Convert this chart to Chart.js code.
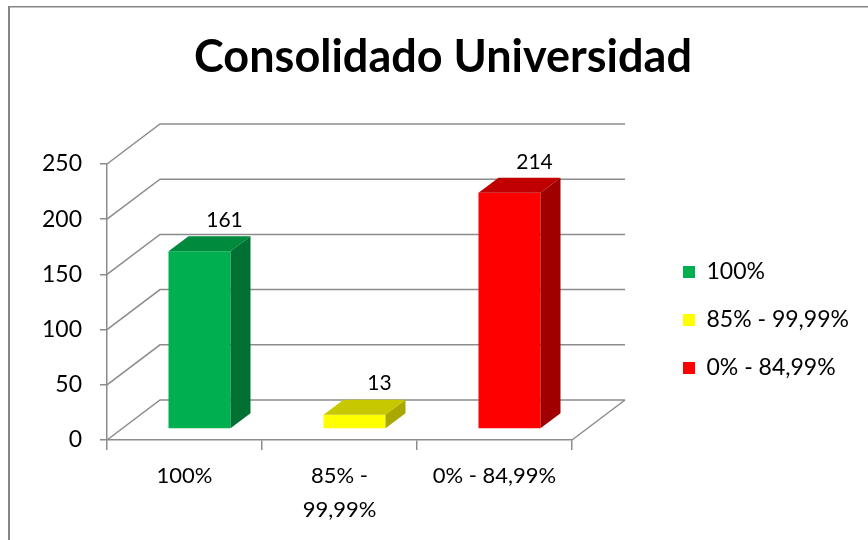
<!DOCTYPE html>
<html>
<head>
<meta charset="utf-8">
<script src="https://cdn.jsdelivr.net/npm/chart.js@4"></script>
<style>
  body { margin: 0; background: #fff; }
  canvas { display: block; }
</style>
</head>
<body>
<canvas id="myChart" width="868" height="540"></canvas>
<script>
// data
var categories = [['100%'], ['85% -', '99,99%'], ['0% - 84,99%']];
var legendLabels = ['100%', '85% - 99,99%', '0% - 84,99%'];
var values = [161, 13, 214];
var yTicks = [0, 50, 100, 150, 200, 250];

// colours: front, top, side
var frontColors = ['#00b050', '#ffff00', '#ff0000'];
var topColors = ['#008a3e', '#c8c800', '#c00000'];
var sideColors = ['#007033', '#a8a800', '#a00000'];

var WALL = { x: 53, y: -40 };   // back wall offset
var SHIFT = { x: 15, y: -11 };  // bar front face offset
var BAR_D = { x: 20, y: -15 };  // bar depth
var GRID = '#8c8c8c';
var LEGEND_W = 200;

var frame3d = {
	id: 'frame3d',
	beforeLayout: function(chart) {
		// let the legend be wider than chart.js allows for a right box
		var lg = chart.legend;
		if (lg && !lg._fixedWidth) {
			var fit = lg.fit;
			lg.fit = function() {
				fit.call(this);
				this.width = LEGEND_W;
			};
			lg._fixedWidth = true;
		}
	},
	beforeDraw: function(chart) {
		var ctx = chart.ctx;
		ctx.save();
		ctx.fillStyle = '#fff';
		ctx.fillRect(0, 0, chart.width, chart.height);
		ctx.fillStyle = '#868686';
		ctx.fillRect(8, 6, 2, chart.height);
		ctx.fillRect(8, 6, chart.width, 1.5);
		ctx.restore();
	},
	beforeDatasetsDraw: function(chart) {
		var ctx = chart.ctx, a = chart.chartArea, y = chart.scales.y;
		ctx.save();
		ctx.strokeStyle = GRID;
		ctx.lineWidth = 1.5;
		ctx.beginPath();
		yTicks.forEach(function(v) {
			var py = y.getPixelForValue(v);
			ctx.moveTo(a.left, py);
			ctx.lineTo(a.left + WALL.x, py + WALL.y);
			ctx.lineTo(a.right + WALL.x, py + WALL.y);
		});
		ctx.moveTo(a.right, a.bottom);
		ctx.lineTo(a.right + WALL.x, a.bottom + WALL.y);
		ctx.stroke();
		ctx.restore();
		// front faces are drawn by chart.js, pushed back into the box
		ctx.save();
		ctx.translate(SHIFT.x, SHIFT.y);
	},
	afterDatasetsDraw: function(chart) {
		var ctx = chart.ctx;
		ctx.restore();
		var meta = chart.getDatasetMeta(0);
		ctx.save();
		meta.data.forEach(function(bar, i) {
			var x0 = bar.x - bar.width / 2 + SHIFT.x;
			var x1 = x0 + bar.width;
			var top = bar.y + SHIFT.y;
			var base = bar.base + SHIFT.y;
			ctx.fillStyle = topColors[i];
			ctx.beginPath();
			ctx.moveTo(x0, top);
			ctx.lineTo(x1, top);
			ctx.lineTo(x1 + BAR_D.x, top + BAR_D.y);
			ctx.lineTo(x0 + BAR_D.x, top + BAR_D.y);
			ctx.closePath();
			ctx.fill();
			ctx.fillStyle = sideColors[i];
			ctx.beginPath();
			ctx.moveTo(x1, top);
			ctx.lineTo(x1 + BAR_D.x, top + BAR_D.y);
			ctx.lineTo(x1 + BAR_D.x, base + BAR_D.y);
			ctx.lineTo(x1, base);
			ctx.closePath();
			ctx.fill();
			ctx.fillStyle = '#000';
			ctx.font = '21px Lato';
			ctx.textAlign = 'center';
			ctx.textBaseline = 'middle';
			ctx.fillText(values[i], x0 + bar.width / 2 + 25, top + BAR_D.y - 16);
		});
		ctx.restore();
	}
};

Chart.defaults.font.family = 'Lato';
Chart.defaults.color = '#000';

var ctx = document.getElementById('myChart').getContext('2d');
var myChart = new Chart(ctx, {
	type: 'bar',
	data: {
		labels: categories,
		datasets: [{
			data: values,
			backgroundColor: frontColors,
			borderWidth: 0,
			categoryPercentage: 1,
			barPercentage: 0.4,
			clip: false
		}]
	},
	options: {
		responsive: false,
		animation: false,
		layout: { padding: { left: 28, right: 10, top: 0, bottom: 0 } },
		plugins: {
			title: {
				display: true,
				text: 'Consolidado Universidad',
				font: { size: 45, weight: 'bold' },
				color: '#000',
				padding: { top: 30, bottom: 80 }
			},
			legend: {
				position: 'right',
				title: { display: true, text: ' ', font: { size: 10 }, padding: { top: 88, bottom: 0 } },
				labels: {
					boxWidth: 12,
					boxHeight: 12,
					padding: 25,
					font: { size: 23 },
					color: '#000',
					generateLabels: function(chart) {
						return legendLabels.map(function(t, i) {
							return { text: t, fillStyle: frontColors[i], strokeStyle: frontColors[i], lineWidth: 0, hidden: false, index: i };
						});
					}
				}
			},
			tooltip: { enabled: false }
		},
		scales: {
			x: {
				grid: { drawOnChartArea: false, drawTicks: true, tickLength: 10, color: GRID, lineWidth: 1.5 },
				border: { color: GRID, width: 1.5 },
				ticks: { font: { size: 22, lineHeight: 1.55 }, padding: 9, maxRotation: 0 },
				afterFit: function(s) { s.height = 100; }
			},
			y: {
				min: 0,
				max: 250,
				grid: { drawOnChartArea: false, drawTicks: true, tickLength: 7, color: GRID, lineWidth: 1.5 },
				border: { color: GRID, width: 1.5 },
				ticks: { stepSize: 50, font: { size: 23 }, padding: 18 },
				afterFit: function(s) { s.width = 79; }
			},
			gap: {
				type: 'linear',
				position: 'right',
				grid: { display: false },
				border: { display: false },
				ticks: { display: false },
				afterFit: function(s) { s.width = 86; }
			}
		}
	},
	plugins: [frame3d]
});
</script>
</body>
</html>
